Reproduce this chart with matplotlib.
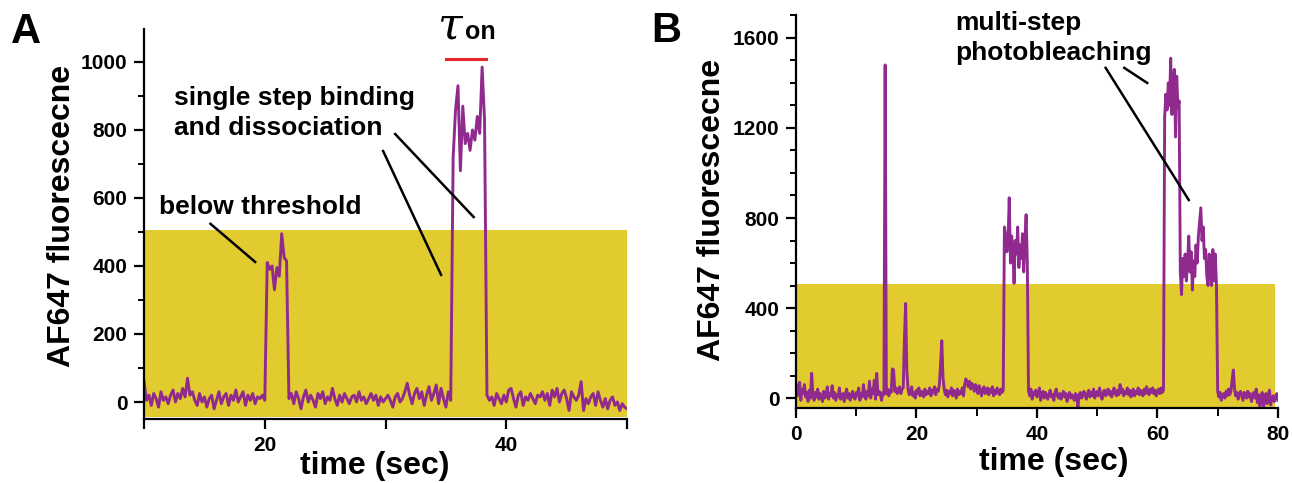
import numpy as np
import matplotlib
matplotlib.use("Agg")
import matplotlib.pyplot as plt
from matplotlib.ticker import MultipleLocator

plt.rcParams['font.family'] = ['Liberation Sans', 'DejaVu Sans']

# single-molecule AF647 traces, one frame every 0.2 s
time_a = (10, 50)
trace_a = [
    60, 5, 20, -10, 25, 10, -15, 30, 5, 15,
    -5, 20, 35, 0, 25, 10, 40, 15, 70, 20,
    30, 5, -10, 25, 0, 15, -15, 10, 20, -20,
    5, 30, -5, 15, 25, -10, 20, 5, 35, 0,
    15, 30, -10, 20, 5, 25, -5, 15, 10, 20,
    5,
    410, 390, 400, 330, 395, 370, 495, 425, 415,
    10,
    25, -5, 30, 10, -20, 15, 35, 0, 20, 5,
    -15, 25, 10, 30, -5, 15, 5, 40, 10, -10,
    20, 0, 25, 10, -5, 15, 20, 0, 30, 5,
    15, -5, 10, 25, 5, 20, -10, 15, 0, 10,
    20, 5, -15, 15, 25, 0, 10, 30, 55, 20,
    -5, 25, 40, 10, 30, -10, 20, 45, 5, 25,
    50, -5, 40, 10, -15, 30, 5,
    720, 860, 930, 680, 870, 760, 790, 740, 800, 770, 840, 790, 985, 830,
    20,
    5, 15, -10, 25, 10, -5, 20, 0,
    35, 40, 10, -15, 20, 30, -10, 15, 5, 25,
    10, -5, 20, 15, 30, 5, 25, -10, 35, 15,
    40, 0, 25, 35, 10, -25, 30, 15, 5, 20,
    60, -25, 10, -5, 15, 25, -10, 30, 5, -15,
    10, -20, 5, 15, -10, 0, -25, -5, -15, -20,
]

time_b = (0, 80)
trace_b = [
    30, 10, 55, 70, -10, 40, 20, 60, 5, 25,
    -15, 35, 0, 110, 15, -10, 25, 5, 40, -5,
    20, 10, -15, 30, 0, 15, 50, -5, 20, 10,
    55, 0, 25, -10, 15, 5, 45, -5, 10, 20,
    -15, 15, 40, 0, 20, -10, 10, 30, 5, -5,
    25, 10, 45, -10, 20, 5, 60, 15, -5, 30,
    10, 75, 0, 40, 20, 80, -5, 110, 15, 30,
    20, -10, 25, 15,
    1480,
    20, 40, 10, 35, 25,
    130, 125, 30, 45, 20,
    35, 50, 20, 40, 45,
    260, 420, 120,
    40, 15, 30, 50, 10, 25, 0,
    35, 20, 45, 10, 30, 25, 5, 40, 15, 30,
    20, 45, 10, 35, 25, 50, 15, 40, 30, 60,
    150, 255, 90, 40, 15, 35, 5, 30, 20, 45,
    10, 35, 25, 0, 40, 15, 30, 20, 45, 10,
    60, 85, 70, 50, 75, 40, 65, 55, 30, 60,
    45, 20, 55, 35, 10, 40, 50, 20, 35, 45,
    15, 40, 25, 50, 10, 35, 20, 45, 30, 15,
    40, 25, 35,
    760,
    720, 650, 700, 890, 600, 720, 660, 510, 700, 640,
    760, 580, 680, 620, 730, 560, 700, 815, 600,
    30,
    10, 40, -5, 25, 15, 35,
    5, 20, 45, -10, 15, 30, 0, 25, 10, -5,
    20, 35, 5, 15, -10, 25, 40, 10, 0, 20,
    -5, 15, 30, 5, 20, -15, 10, 25, 0, 15,
    5, -10, 20, 10, -40, 15, 25, 0, 10, 30,
    15, -5, 20, 35, 5, 25, 10, 40, 0, 20,
    30, 10, 45, 15, -5, 25, 35, 10, 20, 40,
    15, 30, 5, 25, 45, 20, 10, 35, 15, 60,
    25, 40, 10, 30, 20, 45, 15, 35, 5, 25,
    40, 10, 30, 20, 45, 15, 35, 25, 10, 40,
    20, 50, 30, 15, 40, 25, 45, 20, 35, 10,
    30, 40, 20, 45, 25, 35,
    1250, 1350, 1280, 1400, 1300, 1510, 1260, 1380, 1460, 1160,
    1430, 1290, 1320,
    560,
    460, 620, 540, 640, 520, 600, 720, 560, 650, 480,
    610, 540, 680, 600, 720, 780, 845, 700, 760, 620,
    660, 540, 500, 640, 560, 500, 660, 520, 640, 500,
    30,
    5, 25, -10, 15, 20, 0, 30, 10, 40,
    15, 30, 80, 125, 40, 10, 25, -5, 20, 30,
    10, -10, 25, 15, 0, 30, 5, 20, -15, 10,
    25, 0, 40, -20, 15, -35, 10, 25, -40, 5,
    20, -25, 15, 35, -30, 0, 10, -15, 5, 20, -10,
]

threshold = 505
xticks_a = [10, 20, 30, 40, 50]
xticklabels_a = ['', '20', '', '40', '']
yticks_a = [0, 200, 400, 600, 800, 1000]
xticks_b = [0, 20, 40, 60, 80]
yticks_b = [0, 400, 800, 1200, 1600]

YELLOW = '#e1cb2e'
PURPLE = '#912a8e'
RED = '#e8262b'

fig = plt.figure(figsize=(12.92, 4.83), dpi=100)
ax_a = fig.add_axes([0.1115, 0.1325, 0.3738, 0.8075])
ax_b = fig.add_axes([0.6161, 0.1553, 0.3730, 0.8137])


def style_axis(ax):
    for side in ('top', 'right'):
        ax.spines[side].set_visible(False)
    for side in ('left', 'bottom'):
        ax.spines[side].set_linewidth(1.6)
    ax.tick_params(which='major', length=7, width=1.6, labelsize=15, pad=5)
    ax.tick_params(which='minor', length=4, width=1.4)
    for lab in ax.get_xticklabels() + ax.get_yticklabels():
        lab.set_fontweight('bold')


# panel A
t_a = np.linspace(time_a[0], time_a[1], len(trace_a))
ax_a.fill_between([time_a[0], time_a[1]], -44, threshold, color=YELLOW, lw=0, zorder=0)
ax_a.plot(t_a, trace_a, color=PURPLE, lw=2.1, zorder=2)
ax_a.set_xlim(*time_a)
ax_a.set_ylim(-50, 1097)
ax_a.set_xticks(xticks_a)
ax_a.set_xticklabels(xticklabels_a)
ax_a.set_yticks(yticks_a)
ax_a.yaxis.set_minor_locator(MultipleLocator(100))
style_axis(ax_a)

ax_a.plot([35.0, 38.3], [1010, 1010], color=RED, lw=2.2, clip_on=False)
ax_a.text(36.5, 1068, r'$\tau$', fontsize=32, ha='right', va='baseline',
          math_fontfamily='dejavuserif')
ax_a.text(36.55, 1068, 'on', fontsize=18, fontweight='bold', ha='left', va='baseline')

ax_a.text(11.2, 574, 'below threshold', fontsize=19, fontweight='bold', va='center')
ax_a.plot([15.5, 19.2], [524, 412], color='black', lw=1.8)
ax_a.text(12.5, 850, 'single step binding\nand dissociation', fontsize=19,
          fontweight='bold', va='center', linespacing=1.3)
ax_a.plot([29.8, 34.6], [738, 374], color='black', lw=1.8)
ax_a.plot([30.8, 37.3], [788, 544], color='black', lw=1.8)

ax_a.set_xlabel('time (sec)', fontsize=23, fontweight='bold', va='center')
ax_a.xaxis.set_label_coords(0.478, -0.12)
ax_a.set_ylabel('AF647 fluorescecne', fontsize=23, fontweight='bold', va='center')
ax_a.yaxis.set_label_coords(-0.170, 0.52)

# panel B
t_b = np.linspace(time_b[0], time_b[1], len(trace_b))
ax_b.fill_between([0, 79.5], -44, threshold, color=YELLOW, lw=0, zorder=0)
ax_b.plot(t_b, trace_b, color=PURPLE, lw=2.1, zorder=2)
ax_b.set_xlim(*time_b)
ax_b.set_ylim(-44, 1702)
ax_b.set_xticks(xticks_b)
ax_b.xaxis.set_minor_locator(MultipleLocator(10))
ax_b.set_yticks(yticks_b)
ax_b.yaxis.set_minor_locator(MultipleLocator(100))
style_axis(ax_b)
ax_b.tick_params(axis='x', which='minor', length=6)

ax_b.text(26.4, 1600, 'multi-step\nphotobleaching', fontsize=19, fontweight='bold',
          va='center', linespacing=1.3)
ax_b.plot([51.4, 65.2], [1467, 880], color='black', lw=1.8)
ax_b.plot([54.5, 58.3], [1467, 1400], color='black', lw=1.8)

ax_b.set_xlabel('time (sec)', fontsize=23, fontweight='bold', va='center')
ax_b.xaxis.set_label_coords(0.534, -0.137)
ax_b.set_ylabel('AF647 fluorescecne', fontsize=23, fontweight='bold', va='center')
ax_b.yaxis.set_label_coords(-0.175, 0.504)

fig.text(26 / 1292, 1 - 32 / 483, 'A', fontsize=30, fontweight='bold', ha='center', va='center')
fig.text(666 / 1292, 1 - 31 / 483, 'B', fontsize=30, fontweight='bold', ha='center', va='center')

fig.savefig('out.png', dpi=100)
